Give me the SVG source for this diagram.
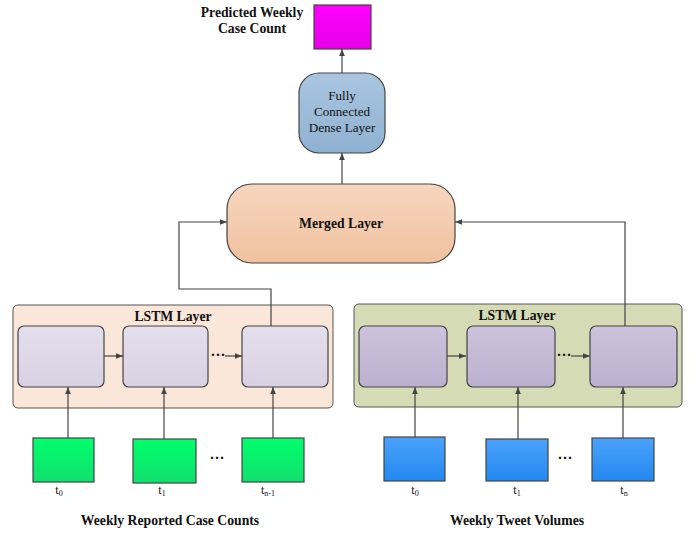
<svg xmlns="http://www.w3.org/2000/svg" width="697" height="534" viewBox="0 0 697 534">
<style>
text{font-family:"Liberation Serif","Times New Roman",serif;fill:#111}
.b{font-weight:bold;font-size:13.7px}
.r{font-size:13.1px}
.t{font-size:12px}
.sub{font-size:8px}
.ln{fill:none;stroke:#444;stroke-width:1.2}
.cellL{fill:url(#gL);stroke:#444;stroke-width:1.2}
.cellR{fill:url(#gR);stroke:#444;stroke-width:1.2}
.inG{fill:url(#gG);stroke:#444;stroke-width:1.2}
.inB{fill:url(#gB);stroke:#444;stroke-width:1.2}
.dots{font-size:15px;font-weight:bold}
</style>
<defs>
<marker id="ah" viewBox="0 0 10 10" refX="10" refY="5" markerWidth="7" markerHeight="7" orient="auto-start-reverse" markerUnits="userSpaceOnUse"><path d="M0,1 L10,5 L0,9 z" fill="#444"/></marker>
<linearGradient id="gL" x1="0" y1="0" x2="0" y2="1"><stop offset="0" stop-color="#e4dfec"/><stop offset="1" stop-color="#d8d1e2"/></linearGradient>
<linearGradient id="gR" x1="0" y1="0" x2="0" y2="1"><stop offset="0" stop-color="#cdc3dc"/><stop offset="1" stop-color="#bcb0cf"/></linearGradient>
<linearGradient id="gG" x1="0" y1="0" x2="0" y2="1"><stop offset="0" stop-color="#00ff6c"/><stop offset="1" stop-color="#12e06e"/></linearGradient>
<linearGradient id="gB" x1="0" y1="0" x2="0" y2="1"><stop offset="0" stop-color="#4ba2fb"/><stop offset="1" stop-color="#2388ef"/></linearGradient>
<linearGradient id="gM" x1="0" y1="0" x2="0" y2="1"><stop offset="0" stop-color="#f6d6bf"/><stop offset="1" stop-color="#f0c19f"/></linearGradient>
<linearGradient id="gD" x1="0" y1="0" x2="0" y2="1"><stop offset="0" stop-color="#a9c6e0"/><stop offset="1" stop-color="#8fb1d1"/></linearGradient>
<linearGradient id="gP" x1="0" y1="0" x2="0" y2="1"><stop offset="0" stop-color="#ff00ff"/><stop offset="1" stop-color="#e600e6"/></linearGradient>
</defs>

<g id="output">
<rect x="314" y="5" width="57" height="44" fill="url(#gP)" stroke="#444" stroke-width="1.2"/>
<text class="b" x="252" y="17" text-anchor="middle">Predicted Weekly</text>
<text class="b" x="252" y="33" text-anchor="middle">Case Count</text>
</g>

<g id="dense">
<rect x="299" y="73" width="86" height="80" rx="20" fill="url(#gD)" stroke="#444" stroke-width="1.2"/>
<text class="r" x="342" y="100" text-anchor="middle">Fully</text>
<text class="r" x="342" y="116" text-anchor="middle">Connected</text>
<text class="r" x="342" y="132" text-anchor="middle">Dense Layer</text>
</g>

<g id="merged">
<rect x="227" y="184" width="228" height="79" rx="25" fill="url(#gM)" stroke="#444" stroke-width="1.2"/>
<text class="b" x="341" y="228" text-anchor="middle">Merged Layer</text>
</g>

<g id="lstm-left">
<rect x="13" y="305" width="320" height="103" rx="5" fill="#fbe6da" stroke="#555" stroke-width="1"/>
<text class="b" x="173" y="321" text-anchor="middle">LSTM Layer</text>
<rect class="cellL" x="18" y="326" width="86" height="61" rx="6"/>
<rect class="cellL" x="123" y="326" width="85" height="61" rx="6"/>
<rect class="cellL" x="242" y="326" width="86" height="61" rx="6"/>
<text class="dots" x="218" y="360" text-anchor="middle">···</text>
</g>

<g id="lstm-right">
<rect x="354" y="304" width="328" height="103" rx="5" fill="#d5dbb4" stroke="#555" stroke-width="1"/>
<text class="b" x="517" y="320" text-anchor="middle">LSTM Layer</text>
<rect class="cellR" x="359" y="326" width="88" height="61" rx="6"/>
<rect class="cellR" x="467" y="326" width="88" height="61" rx="6"/>
<rect class="cellR" x="590" y="326" width="87" height="61" rx="6"/>
<text class="dots" x="564" y="360" text-anchor="middle">···</text>
</g>

<g id="inputs-left">
<rect class="inG" x="33" y="438" width="61" height="44"/>
<rect class="inG" x="133" y="439" width="63" height="44"/>
<rect class="inG" x="242" y="438" width="62" height="44"/>
<text class="dots" x="217" y="463" text-anchor="middle">···</text>
<text class="t" x="59" y="494" text-anchor="middle">t<tspan class="sub" dy="2">0</tspan></text>
<text class="t" x="162" y="494" text-anchor="middle">t<tspan class="sub" dy="2">1</tspan></text>
<text class="t" x="268" y="494" text-anchor="middle">t<tspan class="sub" dy="2">n-1</tspan></text>
<text class="b" x="170" y="525" text-anchor="middle">Weekly Reported Case Counts</text>
</g>

<g id="inputs-right">
<rect class="inB" x="384" y="437" width="61" height="44"/>
<rect class="inB" x="486" y="439" width="62" height="42"/>
<rect class="inB" x="592" y="438" width="62" height="43"/>
<text class="dots" x="565" y="463" text-anchor="middle">···</text>
<text class="t" x="415" y="494" text-anchor="middle">t<tspan class="sub" dy="2">0</tspan></text>
<text class="t" x="517" y="494" text-anchor="middle">t<tspan class="sub" dy="2">1</tspan></text>
<text class="t" x="624" y="494" text-anchor="middle">t<tspan class="sub" dy="2">n</tspan></text>
<text class="b" x="517" y="525" text-anchor="middle">Weekly Tweet Volumes</text>
</g>

<g id="connectors">
<path class="ln" d="M342,73 V49" marker-end="url(#ah)"/>
<path class="ln" d="M342,184 V153" marker-end="url(#ah)"/>
<path class="ln" d="M271,326 V289 H179 V222 H227" marker-end="url(#ah)"/>
<path class="ln" d="M625,326 V222 H455" marker-end="url(#ah)"/>
<path class="ln" d="M104,356 H123" marker-end="url(#ah)"/>
<path class="ln" d="M225,356 H242" marker-end="url(#ah)"/>
<path class="ln" d="M447,356 H466" marker-end="url(#ah)"/>
<path class="ln" d="M571,356 H590" marker-end="url(#ah)"/>
<path class="ln" d="M68,438 V387" marker-end="url(#ah)"/>
<path class="ln" d="M164,439 V387" marker-end="url(#ah)"/>
<path class="ln" d="M273,438 V387" marker-end="url(#ah)"/>
<path class="ln" d="M415,437 V387" marker-end="url(#ah)"/>
<path class="ln" d="M518,439 V387" marker-end="url(#ah)"/>
<path class="ln" d="M623,438 V387" marker-end="url(#ah)"/>
</g>
</svg>
